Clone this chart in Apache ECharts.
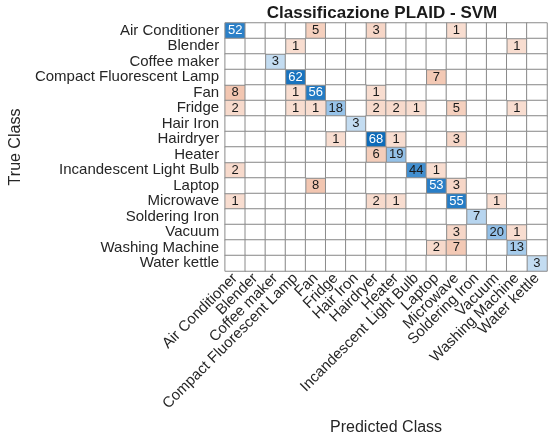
<!DOCTYPE html>
<html>
<head>
<meta charset="utf-8">
<script src="https://cdn.jsdelivr.net/npm/echarts@6/dist/echarts.min.js"></script>
<style>html,body{margin:0;padding:0;background:#fff}#c{width:550px;height:441px}</style>
</head>
<body>
<div id="c"></div>
<script>
const classes = ['Air Conditioner','Blender','Coffee maker','Compact Fluorescent Lamp','Fan','Fridge','Hair Iron','Hairdryer','Heater','Incandescent Light Bulb','Laptop','Microwave','Soldering Iron','Vacuum','Washing Machine','Water kettle'];
// rows = true class, columns = predicted class
const counts = [
  [52,0,0,0,5,0,0,3,0,0,0,1,0,0,0,0],
  [0,0,0,1,0,0,0,0,0,0,0,0,0,0,1,0],
  [0,0,3,0,0,0,0,0,0,0,0,0,0,0,0,0],
  [0,0,0,62,0,0,0,0,0,0,7,0,0,0,0,0],
  [8,0,0,1,56,0,0,1,0,0,0,0,0,0,0,0],
  [2,0,0,1,1,18,0,2,2,1,0,5,0,0,1,0],
  [0,0,0,0,0,0,3,0,0,0,0,0,0,0,0,0],
  [0,0,0,0,0,1,0,68,1,0,0,3,0,0,0,0],
  [0,0,0,0,0,0,0,6,19,0,0,0,0,0,0,0],
  [2,0,0,0,0,0,0,0,0,44,1,0,0,0,0,0],
  [0,0,0,0,8,0,0,0,0,0,53,3,0,0,0,0],
  [1,0,0,0,0,0,0,2,1,0,0,55,0,1,0,0],
  [0,0,0,0,0,0,0,0,0,0,0,0,7,0,0,0],
  [0,0,0,0,0,0,0,0,0,0,0,3,0,20,1,0],
  [0,0,0,0,0,0,0,0,0,0,2,7,0,0,13,0],
  [0,0,0,0,0,0,0,0,0,0,0,0,0,0,0,3]
];
const titleText = 'Classificazione PLAID - SVM';
const xName = 'Predicted Class';
const yName = 'True Class';

const FONT = 'Liberation Sans, Arial, sans-serif';
const diag = [], off = [], zero = [];
counts.forEach((row, r) => row.forEach((v, c) => {
  if (v === 0) { zero.push([c, r, v]); return; }
  const item = { value: [c, r, v], label: { color: v >= 50 ? '#ffffff' : '#1a1a1a' } };
  (r === c ? diag : off).push(item);
}));

const chart = echarts.init(document.getElementById('c'), null, { renderer: 'canvas' });
const cellStyle = { borderColor: '#8a8a8a', borderWidth: 1 };
const lbl = { show: true, fontSize: 13, fontFamily: FONT, formatter: p => p.value[2] };
chart.setOption({
  animation: false,
  backgroundColor: '#ffffff',
  textStyle: { fontFamily: FONT },
  title: {
    text: titleText, left: 377, top: 0, textAlign: 'center',
    textStyle: { fontSize: 17, fontWeight: 'bold', color: '#1a1a1a', fontFamily: FONT }
  },
  grid: { left: 207, top: 23, width: 340, height: 254 },
  xAxis: {
    type: 'category', data: classes, position: 'bottom',
    axisLine: { show: false }, axisTick: { show: false }, splitLine: { show: false },
    axisLabel: { rotate: 45, interval: 0, fontSize: 15, color: '#262626', margin: 5, fontFamily: FONT },
    name: xName, nameLocation: 'middle', nameGap: 149,
    nameTextStyle: { fontSize: 16, color: '#262626', fontFamily: FONT }
  },
  yAxis: {
    type: 'category', data: classes, inverse: true,
    axisLine: { show: false }, axisTick: { show: false }, splitLine: { show: false },
    axisLabel: { interval: 0, fontSize: 15, color: '#262626', margin: 6, fontFamily: FONT },
    name: yName, nameLocation: 'middle', nameGap: 192, nameRotate: 90,
    nameTextStyle: { fontSize: 16, color: '#262626', fontFamily: FONT }
  },
  visualMap: [
    { show: false, seriesIndex: 0, dimension: 2, min: 3, max: 68,
      inRange: { color: ['#c3dcf1', '#93c1e8', '#5d9fd6', '#2b80c8', '#0d6bb9'] } },
    { show: false, seriesIndex: 1, dimension: 2, min: 1, max: 8,
      inRange: { color: ['#f8ddd0', '#f2c6b1'] } }
  ],
  series: [
    { type: 'heatmap', data: diag, itemStyle: cellStyle, label: lbl, emphasis: { disabled: true } },
    { type: 'heatmap', data: off, itemStyle: cellStyle, label: lbl, emphasis: { disabled: true } },
    { type: 'heatmap', data: zero, itemStyle: Object.assign({ color: '#ffffff' }, cellStyle), label: { show: false }, emphasis: { disabled: true } }
  ]
});
</script>
</body>
</html>
